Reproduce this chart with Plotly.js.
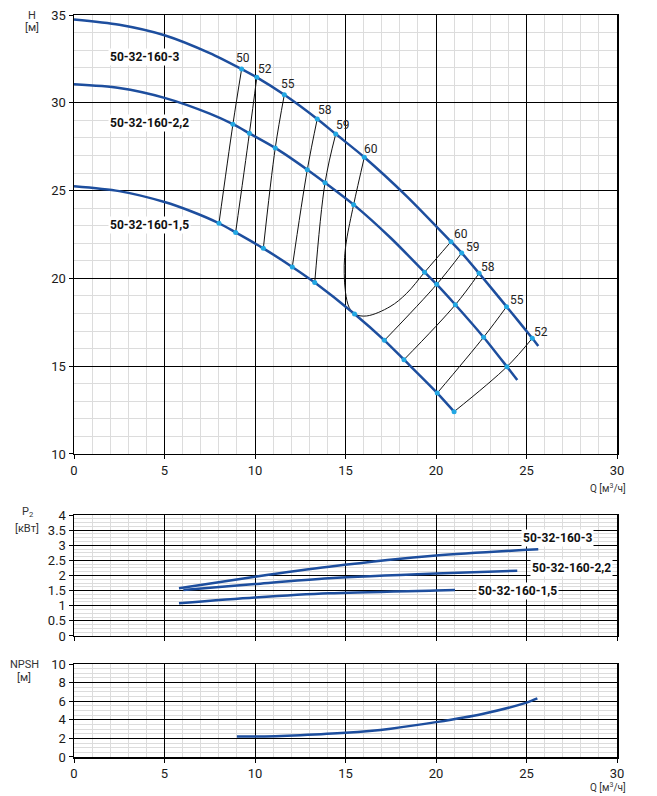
<!DOCTYPE html>
<html>
<head>
<meta charset="utf-8">
<script src="https://cdn.plot.ly/plotly-3.0.1.min.js"></script>
<style>
  html, body { margin: 0; padding: 0; background: #fff; }
  #chart { width: 657px; height: 796px; }
</style>
</head>
<body>
<div id="chart"></div>
<script>
// H(Q) curves
let h3_q  = [0, 2.5, 5, 7.5, 9.26, 10.1, 11.62, 13.44, 14.46, 16.04, 18.4, 20.83, 21.42, 22.38, 23.9, 25.32, 25.65]
let h3_h  = [34.75, 34.45, 33.85, 32.83, 31.92, 31.45, 30.46, 29.08, 28.22, 26.9, 24.66, 22.09, 21.45, 20.29, 18.39, 16.59, 16.15]
let h22_q = [0, 2.5, 5, 7.5, 8.78, 9.69, 11.12, 12.89, 13.87, 15.45, 17.5, 19.37, 20.04, 21.07, 22.63, 23.92, 24.49]
let h22_h = [31.05, 30.84, 30.28, 29.38, 28.78, 28.26, 27.43, 26.19, 25.45, 24.2, 22.3, 20.35, 19.66, 18.5, 16.65, 14.97, 14.21]
let h15_q = [0, 2.5, 5, 6.5, 8.01, 8.93, 10.46, 12.06, 13.3, 15.5, 17.15, 18.23, 20.07, 21.0]
let h15_h = [25.25, 24.97, 24.35, 23.81, 23.14, 22.62, 21.71, 20.65, 19.76, 17.97, 16.47, 15.37, 13.47, 12.41]

// efficiency points sitting on the curves
let m3_q  = [9.26, 10.1, 11.62, 13.44, 14.46, 16.04, 20.83, 21.42, 22.38, 23.9, 25.32]
let m3_h  = [31.92, 31.45, 30.46, 29.08, 28.22, 26.9, 22.09, 21.45, 20.29, 18.39, 16.59]
let m22_q = [8.78, 9.69, 11.12, 12.89, 13.87, 15.45, 19.37, 20.04, 21.07, 22.63, 23.92]
let m22_h = [28.78, 28.26, 27.43, 26.19, 25.45, 24.2, 20.35, 19.66, 18.5, 16.65, 14.97]
let m15_q = [8.01, 8.93, 10.46, 12.06, 13.3, 15.5, 17.15, 18.23, 20.07, 21.0]
let m15_h = [23.14, 22.62, 21.71, 20.65, 19.76, 17.97, 16.47, 15.37, 13.47, 12.41]

// iso-efficiency lines
let eff_lines = [
  {q: [9.26, 8.78, 8.01],   h: [31.92, 28.78, 23.14]},
  {q: [10.1, 9.69, 8.93],   h: [31.45, 28.26, 22.62]},
  {q: [11.62, 11.12, 10.46], h: [30.46, 27.43, 21.71]},
  {q: [13.44, 12.89, 12.06], h: [29.08, 26.19, 20.65]},
  {q: [14.46, 13.87, 13.3], h: [28.22, 25.45, 19.76]},
  {q: [16.04, 15.45, 15.06, 14.95, 14.93, 15.0, 15.2, 15.5, 16.17, 17.46, 18.38, 19.37, 20.83],
   h: [26.9, 24.2, 22.19, 21.2, 20.29, 19.2, 18.35, 17.97, 17.86, 18.39, 19.15, 20.35, 22.09]},
  {q: [17.15, 20.04, 21.42], h: [16.47, 19.66, 21.45]},
  {q: [18.23, 21.07, 22.38], h: [15.37, 18.5, 20.29]},
  {q: [20.07, 22.63, 23.9],  h: [13.47, 16.65, 18.39]},
  {q: [21.0, 23.92, 25.32],  h: [12.41, 14.97, 16.59]}
]
let eff_text  = ['50', '52', '55', '58', '59', '60', '60', '59', '58', '55', '52']
let eff_lab_q = m3_q
let eff_lab_h = m3_h

// P2
let p3_q  = [5.8, 10, 14.1, 20, 25.65]
let p3_p  = [1.58, 1.96, 2.29, 2.66, 2.87]
let p22_q = [6.04, 10, 14.1, 20, 24.49]
let p22_p = [1.52, 1.72, 1.91, 2.07, 2.16]
let p15_q = [5.8, 10, 14.1, 20, 21.05]
let p15_p = [1.08, 1.27, 1.41, 1.50, 1.52]

// NPSH
let npsh_q = [9, 10, 12.5, 15, 17.5, 20, 22.5, 25, 25.6]
let npsh_h = [2.2, 2.2, 2.35, 2.6, 3.05, 3.75, 4.6, 5.85, 6.3]

let pump_names = ['50-32-160-3', '50-32-160-2,2', '50-32-160-1,5']

let BLUE = '#1d4e9e'
let CYAN = '#22a7e3'
let FONT = 'Roboto, "Noto Sans", sans-serif'

let curve = function(x, y, xa, ya) {
  return {x: x, y: y, xaxis: xa, yaxis: ya, mode: 'lines', hoverinfo: 'skip',
          line: {color: BLUE, width: 2.5, shape: 'spline', smoothing: 0.8}}
}
let dots = function(x, y) {
  return {x: x, y: y, xaxis: 'x', yaxis: 'y', mode: 'markers', hoverinfo: 'skip',
          marker: {color: CYAN, size: 5}}
}

let traces = []
eff_lines.forEach(function(e) {
  traces.push({x: e.q, y: e.h, xaxis: 'x', yaxis: 'y', mode: 'lines', hoverinfo: 'skip',
               line: {color: '#111', width: 1, shape: 'spline', smoothing: 1}})
})
traces.push(curve(h3_q, h3_h, 'x', 'y'))
traces.push(curve(h22_q, h22_h, 'x', 'y'))
traces.push(curve(h15_q, h15_h, 'x', 'y'))
traces.push(dots(m3_q, m3_h))
traces.push(dots(m22_q, m22_h))
traces.push(dots(m15_q, m15_h))
traces.push(curve(p3_q, p3_p, 'x2', 'y2'))
traces.push(curve(p22_q, p22_p, 'x2', 'y2'))
traces.push(curve(p15_q, p15_p, 'x2', 'y2'))
traces.push(curve(npsh_q, npsh_h, 'x3', 'y3'))

let xax = function(anchor, labels) {
  return {
    domain: [0, 1], anchor: anchor, range: [0, 30], tick0: 0, dtick: 5,
    showgrid: true, gridcolor: '#000', gridwidth: 1, zeroline: false,
    minor: {dtick: 1, showgrid: true, gridcolor: '#dcdcdc', gridwidth: 1},
    showline: true, linecolor: '#000', linewidth: 1.5, mirror: true,
    ticks: 'outside', ticklen: 4, tickcolor: '#000',
    showticklabels: labels, tickfont: {family: FONT, size: 13, color: '#1a1a1a'}
  }
}
let yax = function(anchor, dom, rng, dt, mdt) {
  return {
    domain: dom, anchor: anchor, range: rng, dtick: dt, tick0: rng[0],
    showgrid: true, gridcolor: '#000', gridwidth: 1, zeroline: false,
    minor: {dtick: mdt, showgrid: true, gridcolor: '#dcdcdc', gridwidth: 1},
    showline: true, linecolor: '#000', linewidth: 1.5, mirror: true,
    ticks: 'outside', ticklen: 4, tickcolor: '#000',
    tickfont: {family: FONT, size: 13, color: '#1a1a1a'}
  }
}

let ann = []
let boldLabel = function(text, x, y, xr, yr) {
  ann.push({text: '<b>' + text + '</b>', x: x, y: y, xref: xr, yref: yr,
            xanchor: 'left', yanchor: 'middle', showarrow: false,
            bgcolor: '#fff', borderpad: 1,
            font: {family: FONT, size: 12, color: '#111'}})
}
boldLabel(pump_names[0], 1.88, 32.6, 'x', 'y')
boldLabel(pump_names[1], 1.88, 28.85, 'x', 'y')
boldLabel(pump_names[2], 1.88, 23.04, 'x', 'y')
boldLabel(pump_names[0], 24.7, 3.25, 'x2', 'y2')
boldLabel(pump_names[1], 25.2, 2.26, 'x2', 'y2')
boldLabel(pump_names[2], 22.2, 1.50, 'x2', 'y2')

// efficiency numbers, nudged up-right of their points
let shifts = [[1, 11], [8, 8], [4, 11], [8, 9], [7, 9], [7, 8], [10, 8], [11, 6], [9, 6], [10, 7], [9, 6]]
for (let i = 0; i < eff_text.length; i++) {
  ann.push({text: eff_text[i], x: eff_lab_q[i], y: eff_lab_h[i], xref: 'x', yref: 'y',
            xshift: shifts[i][0], yshift: shifts[i][1], showarrow: false,
            font: {family: FONT, size: 12, color: '#222'}})
}

let paperText = function(text, x, y, size, xanchor) {
  ann.push({text: text, x: x, y: y, xref: 'paper', yref: 'paper', showarrow: false,
            xanchor: xanchor || 'center', yanchor: 'middle',
            font: {family: FONT, size: size, color: '#333'}})
}
paperText('H', -0.077, 1.0, 11)
paperText('[м]', -0.077, 0.9838, 11)
paperText('P<sub>2</sub>', -0.085, 0.3306, 11)
paperText('[кВт]', -0.087, 0.3082, 11)
paperText('NPSH', -0.092, 0.1253, 11)
paperText('[м]', -0.092, 0.1065, 11)
paperText('Q [м<sup>3</sup>/ч]', 1.021, 0.3625, 10, 'right')
paperText('Q [м<sup>3</sup>/ч]', 1.021, -0.0404, 10, 'right')

let layout = {
  width: 657, height: 796,
  margin: {l: 74, r: 40, t: 15, b: 39},
  paper_bgcolor: '#fff', plot_bgcolor: '#fff',
  showlegend: false,
  font: {family: FONT},
  xaxis: xax('y', true),
  xaxis2: xax('y2', false),
  xaxis3: xax('y3', true),
  yaxis: yax('x', [0.4084, 1], [10, 35], 5, 1),
  yaxis2: yax('x2', [0.1631, 0.3261], [0, 4], 0.5, 0.125),
  yaxis3: yax('x3', [0, 0.1253], [0, 10], 2, 0.5),
  annotations: ann
}

Plotly.newPlot('chart', traces, layout, {staticPlot: true})
</script>
</body>
</html>
